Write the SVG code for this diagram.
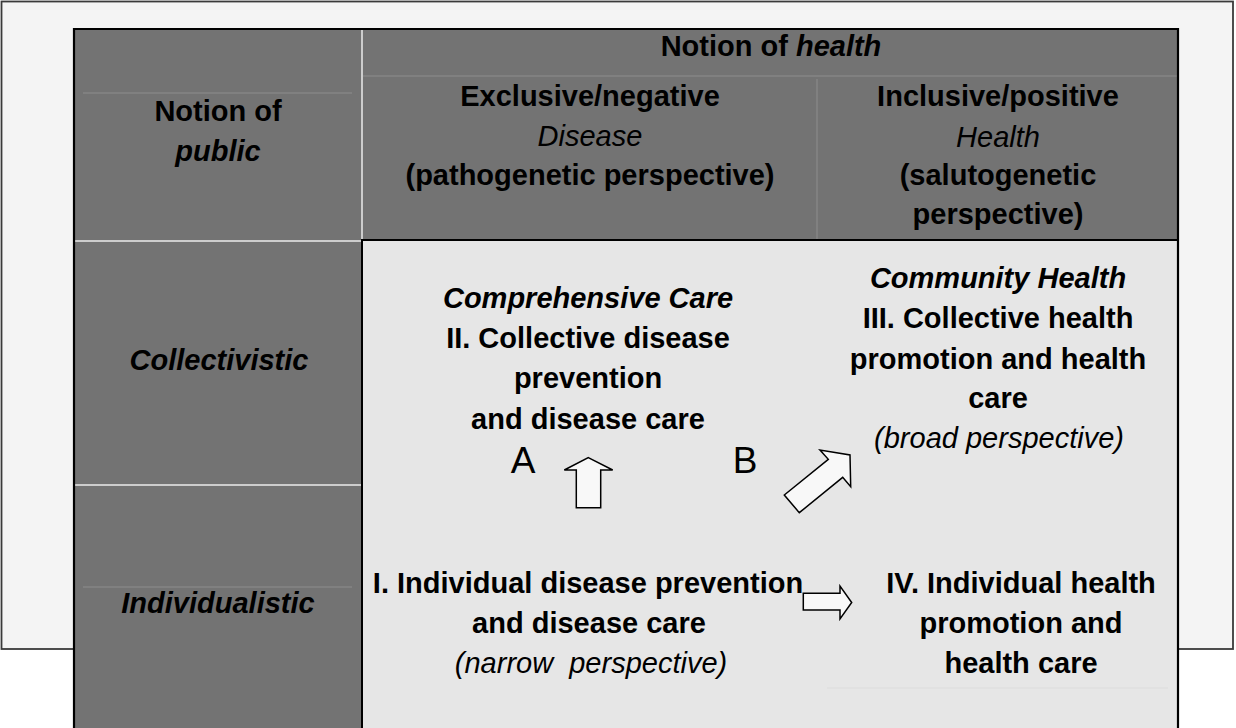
<svg xmlns="http://www.w3.org/2000/svg" width="1236" height="728" viewBox="0 0 1236 728">
<style>
text{font-family:"Liberation Sans",Arial,sans-serif;font-size:29px;fill:#000;text-anchor:middle}
.b{font-weight:bold}
.bi{font-weight:bold;font-style:italic}
.i{font-style:italic}
.pre{white-space:pre}
.lbl{font-size:37px}
.thin{stroke:#8e8e8e;stroke-width:1;fill:none}
.lite{stroke:#cdcdcd;stroke-width:2;fill:none}
.blk{fill:#f8f8f8;stroke:#000;stroke-width:1.5;stroke-linejoin:miter}
</style>
<rect x="0" y="0" width="1236" height="728" fill="#ffffff"/>
<rect x="1.5" y="1.5" width="1231.5" height="647.5" fill="#f4f4f4" stroke="#3a3a3a" stroke-width="1.8"/>
<g id="table">
<rect x="74" y="29" width="1104" height="720" fill="#737373"/>
<rect x="362" y="240" width="816" height="510" fill="#e6e6e6"/>
<line class="thin" x1="362" y1="76" x2="1177" y2="76"/>
<line class="thin" x1="817" y1="79" x2="817" y2="239"/>
<line class="thin" x1="83" y1="93" x2="352" y2="93"/>
<line class="thin" x1="83" y1="587" x2="352" y2="587"/>
<line class="lite" x1="362" y1="30" x2="362" y2="239"/>
<line class="lite" x1="75" y1="241" x2="361" y2="241"/>
<line class="lite" x1="75" y1="485" x2="361" y2="485"/>
<line x1="827" y1="688" x2="1168" y2="688" stroke="#dcdcdc" stroke-width="1"/>
<path d="M362,750 V240 H1178" fill="none" stroke="#000" stroke-width="2"/>
<path d="M74,750 V29 H1178 V750" fill="none" stroke="#000" stroke-width="2.2"/>
</g>
<g id="hdr-health"><text x="771" y="56" class="b">Notion of <tspan class="bi">health</tspan></text></g>
<g id="hdr-public"><text x="218" y="121" class="b">Notion of</text><text x="218" y="161" class="bi">public</text></g>
<g id="hdr-exclusive">
<text x="590" y="106" class="b">Exclusive/negative</text>
<text x="590" y="146" class="i">Disease</text>
<text x="590" y="185" class="b">(pathogenetic perspective)</text>
</g>
<g id="hdr-inclusive">
<text x="998" y="106" class="b">Inclusive/positive</text>
<text x="998" y="147" class="i">Health</text>
<text x="998" y="185" class="b">(salutogenetic</text>
<text x="998" y="224" class="b">perspective)</text>
</g>
<g id="row-collectivistic"><text x="219" y="370" class="bi">Collectivistic</text></g>
<g id="row-individualistic"><text x="218" y="613" class="bi">Individualistic</text></g>
<g id="cell-II">
<text x="588" y="308" class="bi">Comprehensive Care</text>
<text x="588" y="348" class="b">II. Collective disease</text>
<text x="588" y="388" class="b">prevention</text>
<text x="588" y="429" class="b">and disease care</text>
</g>
<g id="cell-III">
<text x="998" y="288" class="bi">Community Health</text>
<text x="998" y="328" class="b">III. Collective health</text>
<text x="998" y="369" class="b">promotion and health</text>
<text x="998" y="408" class="b">care</text>
<text x="999" y="448" class="i">(broad perspective)</text>
</g>
<g id="cell-I">
<text x="588" y="593" class="b">I. Individual disease prevention</text>
<text x="589" y="633" class="b">and disease care</text>
<text x="591" y="673" class="i pre" xml:space="preserve">(narrow  perspective)</text>
</g>
<g id="cell-IV">
<text x="1021" y="593" class="b">IV. Individual health</text>
<text x="1021" y="633" class="b">promotion and</text>
<text x="1021" y="673" class="b">health care</text>
</g>
<g id="label-A"><text x="523" y="473" class="lbl">A</text></g>
<g id="label-B"><text x="745" y="473" class="lbl">B</text></g>
<g id="connectors">
<polygon class="blk" points="588.3,457.7 612.7,470 600.7,470 600.7,507.7 576.3,507.7 576.3,470 564.3,470"/>
<polygon class="blk" points="784.3,495 828.3,459.3 820,450 850,455 850.7,486.7 842.7,477.3 799.3,512.7"/>
<polygon class="blk" points="803.3,593.3 840,593.3 840,586 851.7,602.5 840,619 840,610 803.3,610"/>
</g>
</svg>
